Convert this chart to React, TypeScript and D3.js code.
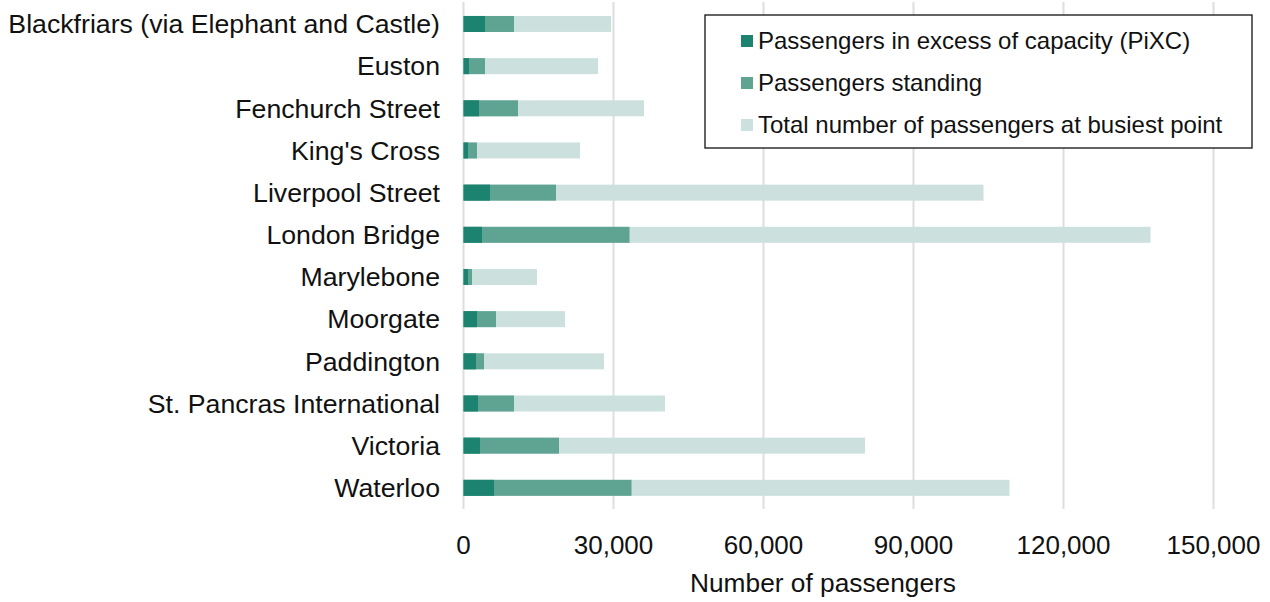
import React from "react";
import * as d3 from "d3";

// Stations (top to bottom) and passenger counts at the busiest point
const stations = [
  "Blackfriars (via Elephant and Castle)",
  "Euston",
  "Fenchurch Street",
  "King's Cross",
  "Liverpool Street",
  "London Bridge",
  "Marylebone",
  "Moorgate",
  "Paddington",
  "St. Pancras International",
  "Victoria",
  "Waterloo",
];
const pixc = [4300, 1100, 3100, 900, 5300, 3700, 900, 2700, 2500, 2900, 3300, 6100];
const standing = [10100, 4300, 10900, 2700, 18500, 33200, 1700, 6500, 4100, 10100, 19100, 33600];
const totalPassengers = [29500, 26900, 36100, 23300, 104000, 137400, 14700, 20300, 28100, 40300, 80300, 109200];

const xTicks = [0, 30000, 60000, 90000, 120000, 150000];

const seriesNames = [
  "Passengers in excess of capacity (PiXC)",
  "Passengers standing",
  "Total number of passengers at busiest point",
];
const seriesColors = ["#1b8370", "#5fa393", "#cce1dd"];

const W = 1270;
const H = 602;
const FONT = "Arial, 'Liberation Sans', Helvetica, sans-serif";

export default function App() {
  const x = d3.scaleLinear().domain([0, 150000]).range([463.5, 1213.5]);
  const y = d3
    .scaleBand<string>()
    .domain(stations)
    .range([2.9, 508.9])
    .paddingInner(0.6206)
    .paddingOuter(0.31);
  const fmt = d3.format(",");
  const bw = y.bandwidth();

  // Drawn back to front: totals, then standing, then PiXC, all from zero
  const layers = [totalPassengers, standing, pixc];
  const layerColors = [seriesColors[2], seriesColors[1], seriesColors[0]];

  return (
    <svg
      width={W}
      height={H}
      style={{ position: "absolute", left: 0, top: 0, background: "#fff" }}
      fontFamily={FONT}
    >
      <rect width={W} height={H} fill="#fff" />
      {xTicks.map((t) => (
        <line
          key={"g" + t}
          x1={x(t)}
          x2={x(t)}
          y1={2}
          y2={509}
          stroke="#dedede"
          strokeWidth={2}
        />
      ))}
      {layers.map((vals, li) =>
        stations.map((s, i) => (
          <rect
            key={li + "-" + s}
            x={x(0)}
            y={y(s)}
            width={x(vals[i]) - x(0)}
            height={bw}
            fill={layerColors[li]}
          />
        ))
      )}
      {stations.map((s) => (
        <text
          key={"l" + s}
          x={440}
          y={(y(s) as number) + bw / 2}
          dy="0.35em"
          textAnchor="end"
          fontSize={26.7}
          fill="#111"
        >
          {s}
        </text>
      ))}
      {xTicks.map((t) => (
        <text
          key={"t" + t}
          x={x(t)}
          y={545}
          dy="0.35em"
          textAnchor="middle"
          fontSize={26}
          fill="#111"
        >
          {fmt(t)}
        </text>
      ))}
      <text x={823} y={583} dy="0.35em" textAnchor="middle" fontSize={26.3} fill="#111">
        Number of passengers
      </text>
      <g>
        <rect x={705} y={15} width={547} height={133} fill="#fff" stroke="#111" strokeWidth={1.3} />
        {seriesNames.map((n, i) => (
          <g key={n} transform={`translate(741, ${41 + i * 42})`}>
            <rect x={0} y={-6} width={12} height={12} fill={seriesColors[i]} />
            <text x={17} y={0} dy="0.35em" fontSize={24} fill="#111">
              {n}
            </text>
          </g>
        ))}
      </g>
    </svg>
  );
}
